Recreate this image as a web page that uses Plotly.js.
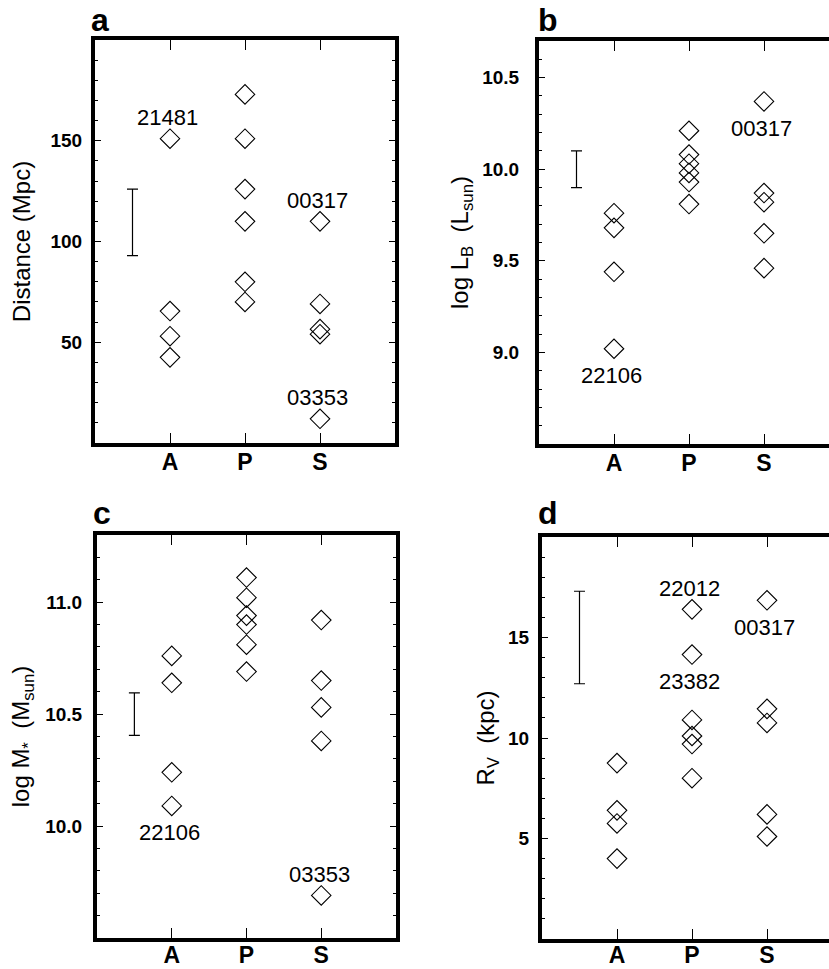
<!DOCTYPE html>
<html>
<head>
<meta charset="utf-8">
<script src="https://cdn.plot.ly/plotly-3.0.1.min.js"></script>
<style>
html,body{margin:0;padding:0;background:#fff;overflow:hidden;}
#chart{width:845px;height:969px;}
</style>
</head>
<body>
<div id="chart"></div>
<script>
// ---- data ----
const categories = ['A', 'P', 'S'];
const catPos = [1, 2, 3];

// panel a: Distance (Mpc)
const distA = [151, 65.5, 53, 42.5];
const distP = [173, 151, 126, 110, 80, 70];
const distS = [110, 69, 56.5, 54, 12];
const distErr = {center: 109.5, err: 16.5};
const distTicks = [50, 100, 150];

// panel b: log L_B (L_sun)
const lbA = [9.76, 9.68, 9.44, 9.02];
const lbP = [10.21, 10.08, 10.03, 9.98, 9.93, 9.81];
const lbS = [10.37, 9.87, 9.82, 9.65, 9.46];
const lbErr = {center: 10.0, err: 0.1};
const lbTicks = [9.0, 9.5, 10.0, 10.5];

// panel c: log M* (M_sun)
const msA = [10.76, 10.64, 10.24, 10.09];
const msP = [11.11, 11.02, 10.94, 10.90, 10.81, 10.69];
const msS = [10.92, 10.65, 10.53, 10.38, 9.69];
const msErr = {center: 10.5, err: 0.095};
const msTicks = [10.0, 10.5, 11.0];

// panel d: R_V (kpc)
const rvA = [8.75, 6.4, 5.75, 4.0];
const rvP = [16.4, 14.15, 10.9, 10.1, 9.7, 8.0];
const rvS = [16.85, 11.45, 10.75, 6.2, 5.1];
const rvErr = {center: 15.0, err: 2.3};
const rvTicks = [5, 10, 15];

// galaxy labels: [category index, point index, text, direction]
const labelsA = [[0, 0, '21481', 'up'], [2, 0, '00317', 'up'], [2, 4, '03353', 'up']];
const labelsB = [[2, 0, '00317', 'down'], [0, 3, '22106', 'down']];
const labelsC = [[0, 3, '22106', 'down'], [2, 4, '03353', 'up']];
const labelsD = [[1, 0, '22012', 'up'], [1, 1, '23382', 'down'], [2, 0, '00317', 'down']];

// ---- layout helpers ----
const W = 845, H = 969;
const FONT = 'Liberation Sans, Arial, Helvetica, sans-serif';
const dx = (l, r) => [l / W, r / W];
const dy = (t, b) => [(H - b) / H, (H - t) / H];

const panels = [
  {id: '', data: [distA, distP, distS], err: distErr, ticks: distTicks, fmt: 'd', range: [0, 200], minor: 10,
   title: 'Distance (Mpc)', xd: dx(95, 395), yd: dy(40, 443), labels: labelsA, letter: 'a', lx: 89, ly: 32,
   standoff: 14, tstand: 5, xstand: -5},
  {id: '2', data: [lbA, lbP, lbS], err: lbErr, ticks: lbTicks, fmt: '.1f', range: [8.5, 10.7], minor: 0.1,
   title: 'log L<sub>B</sub>  (L<sub>sun</sub>)', xd: dx(539, 839), yd: dy(41, 444), labels: labelsB, letter: 'b', lx: 536, ly: 32,
   standoff: 8, tstand: 12, xstand: -5},
  {id: '3', data: [msA, msP, msS], err: msErr, ticks: msTicks, fmt: '.1f', range: [9.5, 11.3], minor: 0.1,
   title: 'log M<sub>*</sub>  (M<sub>sun</sub>)', xd: dx(97, 396), yd: dy(535, 938), labels: labelsC, letter: 'c', lx: 91, ly: 525,
   standoff: 10, tstand: 7, xstand: -7},
  {id: '4', data: [rvA, rvP, rvS], err: rvErr, ticks: rvTicks, fmt: 'd', range: [0, 20], minor: 1,
   title: 'R<sub>V</sub>  (kpc)', xd: dx(542, 842), yd: dy(537, 939), labels: labelsD, letter: 'd', lx: 536, ly: 525,
   standoff: 8, tstand: 5, xstand: -8}
];

const traces = [];
const layout = {
  width: W, height: H,
  margin: {l: 0, r: 0, t: 0, b: 0},
  paper_bgcolor: '#fff', plot_bgcolor: '#fff',
  showlegend: false,
  font: {family: FONT, color: '#000'},
  annotations: []
};

panels.forEach(p => {
  const xa = 'x' + p.id, ya = 'y' + p.id;
  p.data.forEach((vals, ci) => {
    traces.push({
      type: 'scatter', mode: 'markers', xaxis: xa, yaxis: ya,
      x: vals.map(() => catPos[ci]), y: vals,
      marker: {symbol: 'diamond-open', size: 15, color: '#000', line: {width: 1.1, color: '#000'}},
      hoverinfo: 'y'
    });
  });
  traces.push({
    type: 'scatter', mode: 'markers', xaxis: xa, yaxis: ya,
    x: [0.5], y: [p.err.center],
    marker: {size: 1, color: 'rgba(0,0,0,0)'},
    error_y: {type: 'data', array: [p.err.err], color: '#000', thickness: 1.2, width: 5.5},
    hoverinfo: 'skip'
  });
  const xk = 'xaxis' + p.id, yk = 'yaxis' + p.id;
  layout[xk] = {
    domain: p.xd, anchor: ya, range: [0, 4],
    tickmode: 'array', tickvals: catPos, ticktext: categories,
    ticks: 'inside', ticklen: 10, tickwidth: 1, tickcolor: '#000',
    showline: true, linewidth: 4, linecolor: '#000', mirror: 'ticks',
    showgrid: false, zeroline: false, fixedrange: true,
    tickfont: {family: FONT, size: 23, weight: 'bold', color: '#000'},
    ticklabelstandoff: p.xstand
  };
  layout[yk] = {
    domain: p.yd, anchor: xa, range: p.range,
    tickmode: 'array', tickvals: p.ticks, tickformat: p.fmt,
    ticks: 'inside', ticklen: 6, tickwidth: 1, tickcolor: '#000',
    minor: {tickmode: 'linear', tick0: 0, dtick: p.minor, ticks: 'inside', ticklen: 3, tickwidth: 1, tickcolor: '#000', showgrid: false},
    showline: true, linewidth: 4, linecolor: '#000', mirror: 'ticks',
    showgrid: false, zeroline: false, fixedrange: true,
    tickfont: {family: FONT, size: 19, weight: 'bold', color: '#000'},
    ticklabelstandoff: p.tstand,
    title: {text: p.title, font: {family: FONT, size: 24, color: '#000'}, standoff: p.standoff}
  };
  p.labels.forEach(l => {
    const vals = p.data[l[0]];
    layout.annotations.push({
      xref: xa, yref: ya, x: catPos[l[0]] - 0.03, y: vals[l[1]],
      text: l[2], showarrow: false,
      yshift: l[3] === 'up' ? 21 : -27,
      font: {family: FONT, size: 22, color: '#000'}
    });
  });
  layout.annotations.push({
    xref: 'paper', yref: 'paper', x: p.lx / W, y: (H - p.ly) / H,
    xanchor: 'left', yanchor: 'bottom', yshift: -8,
    text: '<b>' + p.letter + '</b>', showarrow: false,
    font: {family: FONT, size: 32, color: '#000', weight: 'bold'}
  });
});

Plotly.newPlot('chart', traces, layout, {staticPlot: true, displayModeBar: false});
</script>
</body>
</html>
